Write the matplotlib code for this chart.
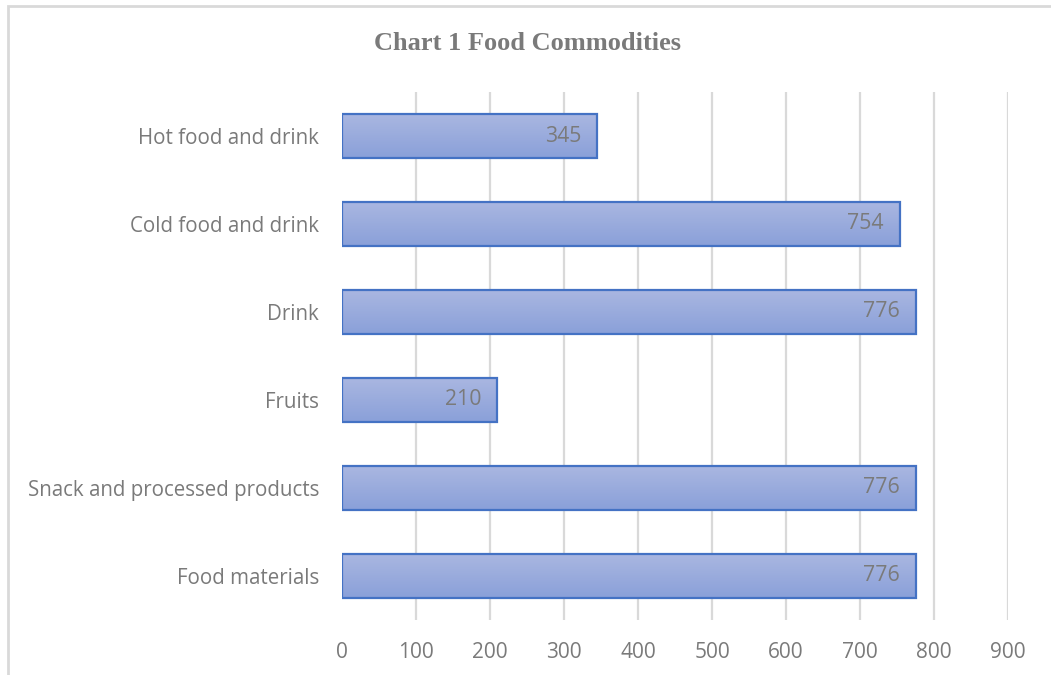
import matplotlib.pyplot as plt
import numpy as np
from matplotlib.patches import Rectangle
from matplotlib.colors import LinearSegmentedColormap

# Food commodity counts, listed top to bottom
categories = ["Hot food and drink", "Cold food and drink", "Drink", "Fruits",
              "Snack and processed products", "Food materials"]
values = [345, 754, 776, 210, 776, 776]
x_ticks = [0, 100, 200, 300, 400, 500, 600, 700, 800, 900]

grey_text = "#7a7a7a"
grid_col = "#d9d9d9"
edge_col = "#4472c4"
font = "Open Sans"

fig = plt.figure(figsize=(10.51, 6.75), dpi=100)
ax = fig.add_axes([0.3254, 0.0815, 0.6337, 0.7822])

# outer frame of the chart area
fig.patches.append(Rectangle((8 / 1051, -0.1), 1.2, 1 - 6 / 675 + 0.1,
                             transform=fig.transFigure, fill=False,
                             edgecolor=grid_col, linewidth=2))

y = np.arange(len(categories))
for t in x_ticks[1:]:
    ax.axvline(t, color=grid_col, linewidth=1.6, zorder=0)

bars = ax.barh(y, values, height=0.51, color="none", edgecolor=edge_col,
               linewidth=1.6, zorder=3)

# vertical gradient fill, lighter at the top of each bar
grad = np.linspace(0, 1, 64).reshape(-1, 1)
cmap = LinearSegmentedColormap.from_list("barfill", ["#aab7e1", "#8aa0d9"])
for b in bars:
    x0, y0 = b.get_x(), b.get_y()
    w, h = b.get_width(), b.get_height()
    im = ax.imshow(grad, extent=(x0, x0 + w, y0 + h, y0), cmap=cmap,
                   aspect="auto", zorder=2, interpolation="bicubic")
    im.set_clip_path(b)

for yi, v in zip(y, values):
    ax.text(v - 22, yi, str(v), ha="right", va="center", color=grey_text,
            fontsize=15.3, family=font, zorder=4)

ax.set_xlim(0, 900)
ax.set_ylim(len(categories) - 0.5, -0.5)
ax.set_xticks(x_ticks)
ax.set_xticklabels([str(t) for t in x_ticks], family=font, fontsize=15,
                   color=grey_text)
ax.set_yticks(y)
ax.set_yticklabels(categories, family=font, fontsize=14.8, color=grey_text)
ax.tick_params(axis="both", length=0)
ax.tick_params(axis="x", pad=16)
ax.tick_params(axis="y", pad=16.5)
for s in ax.spines.values():
    s.set_visible(False)
ax.set_facecolor("none")

fig.text(527 / 1051, 1 - 44 / 675, "Chart 1 Food Commodities", ha="center",
         va="center", fontsize=19, fontweight="bold", family="Liberation Serif",
         color=grey_text)

fig.savefig("out.png", dpi=100)
